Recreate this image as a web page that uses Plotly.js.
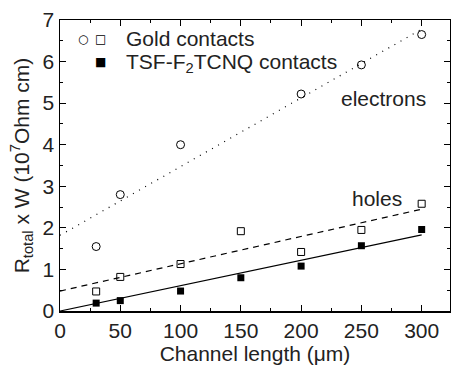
<!DOCTYPE html>
<html><head><meta charset="utf-8">
<script src="https://cdn.plot.ly/plotly-3.0.1.min.js"></script>
<style>body{margin:0;background:#fff}#c{width:451px;height:369px}</style>
</head><body><div id="c"></div>
<script>
// Gold contacts, electrons (open circles)
const xElectrons = [30, 50, 100, 200, 250, 300];
const yElectrons = [1.55, 2.8, 4.0, 5.22, 5.92, 6.65];
// Gold contacts, holes (open squares)
const xHolesGold = [30, 50, 100, 150, 200, 250, 300];
const yHolesGold = [0.47, 0.82, 1.13, 1.92, 1.42, 1.95, 2.58];
// TSF-F2TCNQ contacts, holes (filled squares)
const xHolesTSF = [30, 50, 100, 150, 200, 250, 300];
const yHolesTSF = [0.19, 0.25, 0.48, 0.80, 1.08, 1.57, 1.96];
// linear fits (endpoints)
const xFit = [0, 300];
const yFitElectrons = [1.82, 6.78];
const yFitHolesGold = [0.48, 2.45];
const yFitHolesTSF = [0.0, 1.83];

const font = 'Liberation Sans, Arial, sans-serif';
const sym = 'DejaVu Sans, sans-serif';
const traces = [
  {x: xFit, y: yFitElectrons, mode: 'lines', line: {color: '#000', width: 1.2, dash: '1px,6px'}},
  {x: xFit, y: yFitHolesGold, mode: 'lines', line: {color: '#000', width: 1.2, dash: '6px,5px'}},
  {x: xFit, y: yFitHolesTSF, mode: 'lines', line: {color: '#000', width: 1.2}},
  {x: xElectrons, y: yElectrons, mode: 'markers', marker: {symbol: 'circle-open', size: 8, color: '#000', line: {width: 1}}},
  {x: xHolesGold, y: yHolesGold, mode: 'markers', marker: {symbol: 'square-open', size: 7, color: '#000', line: {width: 1}}},
  {x: xHolesTSF, y: yHolesTSF, mode: 'markers', marker: {symbol: 'square', size: 7, color: '#000'}}
];
const layout = {
  width: 451, height: 369,
  margin: {l: 60, r: 1, t: 20, b: 58},
  showlegend: false,
  paper_bgcolor: '#fff', plot_bgcolor: '#fff',
  font: {family: font, size: 21, color: '#222'},
  xaxis: {
    range: [0, 323.5], tickvals: [0, 50, 100, 150, 200, 250, 300],
    ticks: 'inside', ticklen: 6, tickcolor: '#000', showgrid: false, zeroline: false,
    showline: true, linecolor: '#000', linewidth: 1.5, mirror: 'ticks',
    minor: {dtick: 25, ticks: 'inside', ticklen: 3, tickcolor: '#000', showgrid: false},
    tickfont: {size: 21}, automargin: false,
    title: {text: 'Channel length (μm)', font: {size: 21}, standoff: 3}
  },
  yaxis: {
    range: [0, 7], dtick: 1,
    ticks: 'inside', ticklen: 6, tickcolor: '#000', showgrid: false, zeroline: false,
    showline: true, linecolor: '#000', linewidth: 1.5, mirror: 'ticks',
    minor: {dtick: 0.5, ticks: 'inside', ticklen: 3, tickcolor: '#000', showgrid: false},
    tickfont: {size: 21}, automargin: false,
    title: {text: 'R<sub>total</sub> x W (10<sup>7</sup>Ohm cm)', font: {size: 21}, standoff: 7}
  },
  annotations: [
    {xref: 'paper', yref: 'paper', x: 0.059, y: 0.935, xanchor: 'center', yanchor: 'middle', showarrow: false,
     text: '○', font: {family: sym, size: 12, color: '#000'}},
    {xref: 'paper', yref: 'paper', x: 0.1026, y: 0.935, xanchor: 'center', yanchor: 'middle', showarrow: false,
     text: '□', font: {family: sym, size: 12, color: '#000'}},
    {xref: 'paper', yref: 'paper', x: 0.1026, y: 0.856, xanchor: 'center', yanchor: 'middle', showarrow: false,
     text: '■', font: {family: sym, size: 12, color: '#000'}},
    {xref: 'paper', yref: 'paper', x: 0.165, y: 0.935, xanchor: 'left', yanchor: 'middle', showarrow: false,
     text: 'Gold contacts', font: {size: 21}},
    {xref: 'paper', yref: 'paper', x: 0.165, y: 0.852, xanchor: 'left', yanchor: 'middle', showarrow: false,
     text: 'TSF-F<sub>2</sub>TCNQ contacts', font: {size: 21}},
    {xref: 'paper', yref: 'paper', x: 0.716, y: 0.729, xanchor: 'left', yanchor: 'middle', showarrow: false,
     text: 'electrons', font: {size: 21}},
    {xref: 'paper', yref: 'paper', x: 0.743, y: 0.385, xanchor: 'left', yanchor: 'middle', showarrow: false,
     text: 'holes', font: {size: 21}}
  ]
};
Plotly.newPlot('c', traces, layout, {staticPlot: true});
</script></body></html>
